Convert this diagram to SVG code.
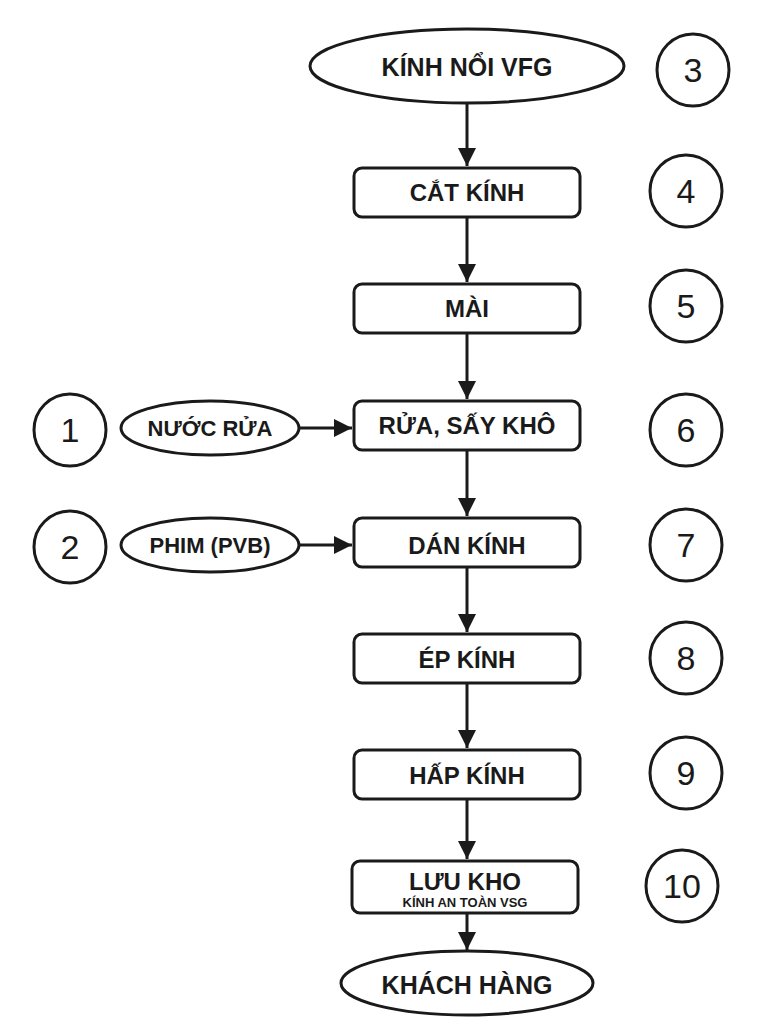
<svg xmlns="http://www.w3.org/2000/svg" width="765" height="1024" viewBox="0 0 765 1024">
<defs>
<style>
.s{fill:#fff;stroke:#1a1a1a;stroke-width:3}
.t{font-family:"Liberation Sans",Arial,sans-serif;font-weight:bold;fill:#1a1a1a;text-anchor:middle}
.n{font-family:"Liberation Sans",Arial,sans-serif;fill:#1a1a1a;text-anchor:middle;font-size:34px}
.c{stroke:#1a1a1a;stroke-width:3;fill:none;marker-end:url(#a)}
</style>
<marker id="a" viewBox="0 0 10 10" refX="10" refY="5" markerWidth="6" markerHeight="6" markerUnits="strokeWidth" orient="auto"><path d="M0,0L10,5L0,10z" fill="#1a1a1a"/></marker>
</defs>
<rect width="765" height="1024" fill="#fff"/>
<g id="connectors">
<line class="c" x1="467" y1="104" x2="467" y2="166"/>
<line class="c" x1="467" y1="218" x2="467" y2="282"/>
<line class="c" x1="467" y1="334" x2="467" y2="399"/>
<line class="c" x1="467" y1="451" x2="467" y2="516"/>
<line class="c" x1="467" y1="568" x2="467" y2="632"/>
<line class="c" x1="467" y1="684" x2="467" y2="748"/>
<line class="c" x1="467" y1="800" x2="467" y2="859"/>
<line class="c" x1="467" y1="914" x2="467" y2="950"/>
<line class="c" x1="300" y1="428" x2="352" y2="428"/>
<line class="c" x1="300" y1="545" x2="352" y2="545"/>
</g>
<g id="n-vfg"><ellipse class="s" cx="467" cy="66" rx="157" ry="37"/><text class="t" x="467" y="76" font-size="25">KÍNH NỔI VFG</text></g>
<g id="n-cat"><rect class="s" x="354" y="168" width="226" height="49" rx="8"/><text class="t" x="467" y="201" font-size="24">CẮT KÍNH</text></g>
<g id="n-mai"><rect class="s" x="354" y="284" width="226" height="49" rx="8"/><text class="t" x="467" y="317" font-size="24">MÀI</text></g>
<g id="n-rua"><rect class="s" x="354" y="401" width="226" height="49" rx="8"/><text class="t" x="467" y="434" font-size="24">RỬA, SẤY KHÔ</text></g>
<g id="n-dan"><rect class="s" x="354" y="518" width="226" height="49" rx="8"/><text class="t" x="467" y="554" font-size="24">DÁN KÍNH</text></g>
<g id="n-ep"><rect class="s" x="354" y="634" width="226" height="49" rx="8"/><text class="t" x="467" y="668" font-size="24">ÉP KÍNH</text></g>
<g id="n-hap"><rect class="s" x="354" y="750" width="226" height="49" rx="8"/><text class="t" x="467" y="784" font-size="24">HẤP KÍNH</text></g>
<g id="n-luu"><rect class="s" x="352" y="861" width="226" height="52" rx="8"/><text class="t" x="465" y="890" font-size="24">LƯU KHO</text><text class="t" x="465" y="907" font-size="13">KÍNH AN TOÀN VSG</text></g>
<g id="n-kh"><ellipse class="s" cx="467" cy="983" rx="126" ry="32"/><text class="t" x="467" y="994" font-size="25">KHÁCH HÀNG</text></g>
<g id="n-nuoc"><ellipse class="s" cx="210" cy="428" rx="89" ry="27"/><text class="t" x="210" y="436" font-size="22">NƯỚC RỬA</text></g>
<g id="n-phim"><ellipse class="s" cx="210" cy="545" rx="89" ry="27"/><text class="t" x="210" y="553" font-size="22">PHIM (PVB)</text></g>
<g id="c1"><circle class="s" cx="70" cy="430" r="36"/><text class="n" x="70" y="442">1</text></g>
<g id="c2"><circle class="s" cx="70" cy="547" r="36"/><text class="n" x="70" y="559">2</text></g>
<g id="c3"><circle class="s" cx="693" cy="70" r="36"/><text class="n" x="693" y="82">3</text></g>
<g id="c4"><circle class="s" cx="686" cy="191" r="36"/><text class="n" x="686" y="203">4</text></g>
<g id="c5"><circle class="s" cx="686" cy="306" r="36"/><text class="n" x="686" y="318">5</text></g>
<g id="c6"><circle class="s" cx="686" cy="430" r="36"/><text class="n" x="686" y="442">6</text></g>
<g id="c7"><circle class="s" cx="686" cy="545" r="36"/><text class="n" x="686" y="557">7</text></g>
<g id="c8"><circle class="s" cx="686" cy="658" r="36"/><text class="n" x="686" y="670">8</text></g>
<g id="c9"><circle class="s" cx="686" cy="773" r="36"/><text class="n" x="686" y="785">9</text></g>
<g id="c10"><circle class="s" cx="682" cy="886" r="36"/><text class="n" x="682" y="898">10</text></g>
</svg>
